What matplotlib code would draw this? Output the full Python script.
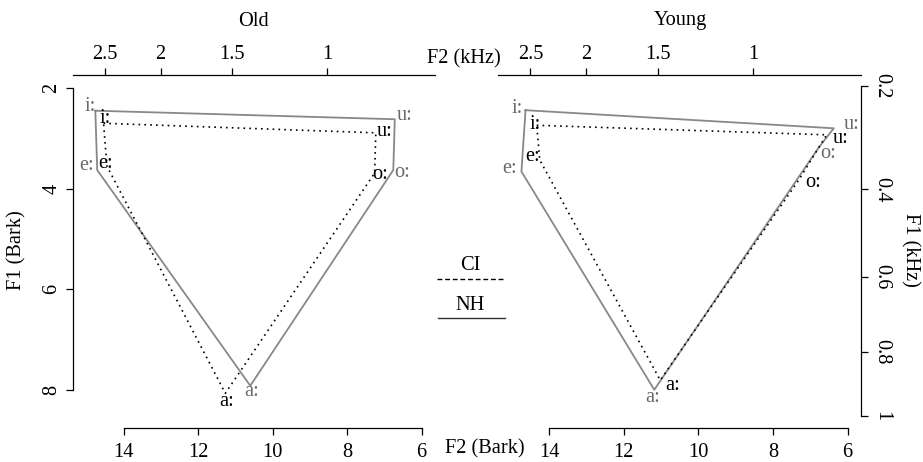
import numpy as np
import matplotlib.pyplot as plt
from matplotlib.lines import Line2D

plt.rcParams['font.family'] = ['Liberation Serif', 'DejaVu Serif']
plt.rcParams['font.size'] = 14.7

# vowel order along the polygon
vowels = ['i:', 'u:', 'o:', 'a:', 'e:']

# F2 / F1 in Bark
old_nh_f2 = [14.76, 6.72, 6.76, 10.60, 14.71]
old_nh_f1 = [2.45, 2.62, 3.63, 7.92, 3.63]
old_ci_f2 = [14.54, 7.23, 7.26, 11.27, 14.45]
old_ci_f1 = [2.70, 2.89, 3.69, 8.07, 3.55]
young_nh_f2 = [14.63, 6.37, 6.78, 11.18, 14.74]
young_nh_f1 = [2.44, 2.80, 3.19, 8.00, 3.66]
young_ci_f2 = [14.33, 6.56, 7.31, 11.02, 14.25]
young_ci_f1 = [2.74, 2.93, 3.83, 7.81, 3.43]

f2_bark_ticks = [14, 12, 10, 8, 6]
f1_bark_ticks = [2, 4, 6, 8]
f2_khz_ticks = [2.5, 2, 1.5, 1]
f2_khz_labels = ['2.5', '2', '1.5', '1']
f1_khz_ticks = [0.2, 0.4, 0.6, 0.8, 1]
f1_khz_labels = ['0.2', '0.4', '0.6', '0.8', '1']

# label offsets in pixels (dx right, dy down) per vowel
old_nh_off = [(-5, -4), (9.5, -3.5), (9, 2), (1.5, 6), (-11, -4.5)]
old_ci_off = [(1.5, -5), (9, -1), (5, 1), (1.5, 8.5), (-1.7, -3)]
young_nh_off = [(-8.5, -2), (18, -4), (9.5, 6), (-2, 8), (-11.7, -2.7)]
young_ci_off = [(-2, -1), (14, 4), (14.5, 2), (12.5, 5.5), (-7.5, -3.5)]

NH_COL = '#888888'
NH_TXT = '#6a6a6a'


def khz_to_bark(f):
    f = np.asarray(f, dtype=float) * 1000
    with np.errstate(divide='ignore', invalid='ignore'):
        z = 26.81 * f / (1960 + f) - 0.53
    return np.where(z < 2, z + 0.15 * (2 - z), z)


def bark_to_khz(z):
    z = np.asarray(z, dtype=float)
    z = np.where(z < 2, (z - 0.3) / 0.85, z)
    with np.errstate(divide='ignore', invalid='ignore'):
        return 1.96 * (z + 0.53) / (26.28 - z)


W, H = 923, 462
fig = plt.figure(figsize=(W / 100, H / 100), dpi=100)


def px_rect(x0, y0, x1, y1):
    return [x0 / W, 1 - y1 / H, (x1 - x0) / W, (y1 - y0) / H]


def fx(x):
    return x / W


def fy(y):
    return 1 - y / H


tick_kw = dict(direction='out', length=5.3, width=0.9, colors='black')


def draw_panel(ax, nh_f2, nh_f1, ci_f2, ci_f1, nh_off, ci_off):
    ax.set_xlim(15.36, 5.64)
    ax.set_ylim(8.76, 1.74)
    ax.patch.set_visible(False)
    for s in ax.spines.values():
        s.set_visible(False)
    ax.spines['bottom'].set_visible(True)
    ax.spines['bottom'].set_bounds(6, 14)
    ax.spines['bottom'].set_linewidth(0.9)
    ax.set_xticks(f2_bark_ticks, labels=[str(t) for t in f2_bark_ticks])
    ax.tick_params(axis='x', pad=5.5, **tick_kw)

    ax.plot(nh_f2 + nh_f2[:1], nh_f1 + nh_f1[:1], color=NH_COL, lw=1.3)
    ax.plot(ci_f2 + ci_f2[:1], ci_f1 + ci_f1[:1], color='black', lw=1.2,
            linestyle=(0, (1, 2.5)))

    for v, x, y, (dx, dy) in zip(vowels, nh_f2, nh_f1, nh_off):
        ax.annotate(v, (x, y), xytext=(dx * 0.72, -dy * 0.72),
                    textcoords='offset points', ha='center', va='center',
                    color=NH_TXT)
    for v, x, y, (dx, dy) in zip(vowels, ci_f2, ci_f1, ci_off):
        ax.annotate(v, (x, y), xytext=(dx * 0.72, -dy * 0.72),
                    textcoords='offset points', ha='center', va='center',
                    color='black')

    top = ax.secondary_xaxis('top', functions=(bark_to_khz, khz_to_bark))
    top.set_ticks(f2_khz_ticks, labels=f2_khz_labels)
    top.spines['bottom'].set_visible(False)
    top.spines['top'].set_linewidth(0.9)
    top.tick_params(axis='x', pad=2.4, **tick_kw)
    top.minorticks_off()


ax_old = fig.add_axes(px_rect(73, 75, 435, 428))
ax_young = fig.add_axes(px_rect(498.3, 75, 861, 428))

draw_panel(ax_old, old_nh_f2, old_nh_f1, old_ci_f2, old_ci_f1,
           old_nh_off, old_ci_off)
draw_panel(ax_young, young_nh_f2, young_nh_f1, young_ci_f2, young_ci_f1,
           young_nh_off, young_ci_off)

# left axis: F1 in Bark
ax_old.spines['left'].set_visible(True)
ax_old.spines['left'].set_bounds(2, 8)
ax_old.spines['left'].set_linewidth(0.9)
ax_old.set_yticks(f1_bark_ticks, labels=[str(t) for t in f1_bark_ticks])
ax_old.tick_params(axis='y', pad=3.2, labelrotation=90, **tick_kw)
for lab in ax_old.get_yticklabels():
    lab.set_va('center')
ax_young.set_yticks([])

# right axis: F1 in kHz
right = ax_young.secondary_yaxis('right', functions=(bark_to_khz, khz_to_bark))
right.set_ticks(f1_khz_ticks, labels=f1_khz_labels)
right.spines['left'].set_visible(False)
right.spines['right'].set_bounds(0.2, 1.0)
right.spines['right'].set_linewidth(0.9)
right.tick_params(axis='y', pad=2.5, labelrotation=-90, **tick_kw)
right.minorticks_off()
for lab in right.get_yticklabels():
    lab.set_va('center')

# titles and axis names
fig.text(fx(253), fy(21), 'Old', ha='center', va='center')
fig.text(fx(680), fy(21), 'Young', ha='center', va='center')
fig.text(fx(427), fy(59), 'F2 (kHz)', ha='left', va='center')
fig.text(fx(445), fy(449), 'F2 (Bark)', ha='left', va='center')
fig.text(fx(17), fy(250), 'F1 (Bark)', ha='center', va='center', rotation=90)
fig.text(fx(910), fy(250), 'F1 (kHz)', ha='center', va='center', rotation=-90)

# legend in the middle
fig.text(fx(470), fy(265), 'CI', ha='center', va='center')
fig.add_artist(Line2D([fx(437), fx(505)], [fy(279), fy(279)], color='black',
                      lw=1.0, linestyle=(0, (3.5, 2))))
fig.text(fx(470), fy(305), 'NH', ha='center', va='center')
fig.add_artist(Line2D([fx(438), fx(505)], [fy(318), fy(318)], color='#333333',
                      lw=1.0))

fig.savefig('out.png', dpi=100)
